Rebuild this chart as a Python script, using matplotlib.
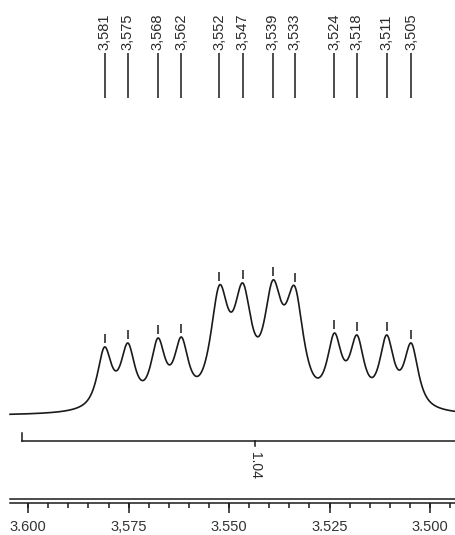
"""
1H NMR multiplet around 3.54 ppm with peak picking and integral.
"""

import numpy as np
import matplotlib
matplotlib.use("Agg")
import matplotlib.pyplot as plt
import matplotlib.transforms as mtransforms

# line positions (ppm), their printed labels and observed heights above baseline (a.u.)
PEAK_PPM = [3.5810, 3.5752, 3.5677, 3.5619, 3.5524, 3.5466, 3.5391, 3.5337,
            3.5238, 3.5182, 3.5108, 3.5047]
PEAK_LABELS = ["3,581", "3,575", "3,568", "3,562", "3,552", "3,547", "3,539", "3,533",
               "3,524", "3,518", "3,511", "3,505"]
PEAK_HEIGHT = [69, 73, 78, 79, 131, 133, 136, 130, 83, 81, 81, 73]
# half width at half height (ppm) and lorentzian fraction of each line
PEAK_HWHM = [0.00212, 0.00212, 0.00212, 0.00212, 0.00262, 0.00262, 0.00262, 0.00262,
             0.00212, 0.00212, 0.00212, 0.00212]
PEAK_ETA = [0.85, 0.85, 0.85, 0.85, 0.8, 0.8, 0.8, 0.8,
            0.85, 0.85, 0.85, 0.85]

# integral region
INT_FROM, INT_TO = 3.6015, 3.490
INT_VALUE = "1.04"

# ppm axis
XTICKS = [3.600, 3.575, 3.550, 3.525, 3.500]
XTICK_LABELS = ["3.600", "3,575", "3.550", "3.525", "3.500"]
MINOR_STEP = 0.005

XLIM = (3.607, 3.4938)
SPEC_START = 3.6045


def pvoigt(x, x0, w, eta):
    u = ((x - x0) / w) ** 2
    return eta / (1.0 + u) + (1 - eta) * np.exp(-np.log(2) * u)


def main():
    pos = np.array(PEAK_PPM)
    h = np.array(PEAK_HEIGHT, dtype=float)
    w = np.array(PEAK_HWHM)
    eta = np.array(PEAK_ETA)
    # amplitudes so that the summed lineshape hits the observed heights at each peak
    M = pvoigt(pos[:, None], pos[None, :], w[None, :], eta[None, :])
    amp = np.linalg.solve(M, h)

    x = np.linspace(SPEC_START, XLIM[1], 3000)
    y = (amp[None, :] * pvoigt(x[:, None], pos[None, :], w[None, :], eta[None, :])).sum(axis=1)

    fig = plt.figure(figsize=(4.55, 5.35), dpi=100)
    ax = fig.add_axes([0, 0, 1, 1])
    ax.set_xlim(*XLIM)
    ax.set_ylim(-119, 416)
    ax.axis("off")
    fam = ["Liberation Sans", "DejaVu Sans"]

    ink = "#1a1a1a"
    ax.plot(x, y, color=ink, lw=1.2)

    # small markers above each picked peak
    ax.vlines(pos, h + 4, h + 13, color=ink, lw=1.1)

    # peak labels at the top (figure y fractions)
    tr = mtransforms.blended_transform_factory(ax.transData, fig.transFigure)
    ax.vlines(pos, 1 - 98 / 535, 1 - 53 / 535, transform=tr, color=ink, lw=1.1)
    for p, lab in zip(PEAK_PPM, PEAK_LABELS):
        ax.text(p, 1 - 50 / 535, lab, transform=tr, rotation=90, ha="center", va="bottom",
                fontsize=10.5, color="#2a2a2a", family=fam)

    # integral bar
    yi = 1 - 441 / 535
    ax.plot([INT_FROM, INT_TO], [yi, yi], transform=tr, color=ink, lw=1.1)
    ax.plot([INT_FROM, INT_FROM], [yi, 1 - 433 / 535], transform=tr, color=ink, lw=1.1)
    mid = 3.5435
    ax.plot([mid, mid], [yi, 1 - 446 / 535], transform=tr, color=ink, lw=1.1)
    ax.text(mid, 1 - 465 / 535, INT_VALUE, transform=tr, rotation=270, ha="center",
            va="center", fontsize=10, color="#2a2a2a", family=fam)

    # ppm scale: double line with ticks
    for yy in (499, 502.5):
        ax.plot([SPEC_START, XLIM[1]], [1 - yy / 535] * 2, transform=tr, color=ink, lw=1.1)
    y_axis = 1 - 503 / 535
    minor = np.arange(3.600, XLIM[1], -MINOR_STEP)
    ax.vlines(minor, 1 - 508 / 535, y_axis, transform=tr, color=ink, lw=1.1)
    ax.vlines(XTICKS, 1 - 513 / 535, y_axis, transform=tr, color=ink, lw=1.1)
    for t, lab in zip(XTICKS, XTICK_LABELS):
        ax.text(t, 1 - 527 / 535, lab, transform=tr, ha="center", va="center",
                fontsize=10.5, color="#333333", family=fam)

    fig.savefig("out.png", dpi=100)
    plt.close(fig)


if __name__ == "__main__":
    main()
